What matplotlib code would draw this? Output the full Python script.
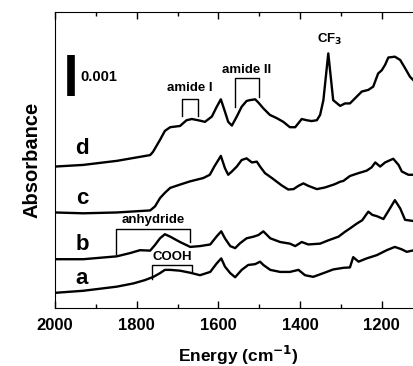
import matplotlib
matplotlib.use("Agg")
import matplotlib.pyplot as plt
from matplotlib.ticker import MultipleLocator

plt.rcParams['font.family'] = ['Liberation Sans', 'DejaVu Sans']
plt.rcParams['font.weight'] = 'bold'

# spectra, energy in cm-1, absorbance in units of 0.001 (curves stacked)
d_e = [2000, 1931, 1848, 1767, 1760, 1743, 1731, 1718, 1694, 1678, 1665, 1645, 1633,
       1616, 1604, 1594, 1584, 1576, 1567, 1555, 1543, 1531, 1523, 1510, 1502, 1490,
       1474, 1457, 1441, 1425, 1412, 1396, 1384, 1372, 1359, 1351, 1343, 1337, 1331,
       1325, 1319, 1302, 1290, 1278, 1266, 1249, 1233, 1221, 1209, 1200, 1192, 1184,
       1168, 1155, 1143, 1131, 1119]
d_a = [3.45, 3.49, 3.59, 3.73, 3.81, 4.10, 4.32, 4.41, 4.44, 4.58, 4.61, 4.57, 4.54,
       4.67, 4.91, 5.09, 4.79, 4.54, 4.45, 4.67, 4.91, 5.05, 5.07, 5.09, 5.01, 4.87,
       4.71, 4.63, 4.54, 4.41, 4.41, 4.61, 4.58, 4.56, 4.58, 4.71, 5.07, 5.64, 6.21,
       5.64, 5.07, 4.93, 4.99, 4.99, 5.11, 5.28, 5.32, 5.40, 5.72, 5.80, 5.93, 6.11,
       6.13, 6.05, 5.85, 5.64, 5.52]

c_e = [2000, 1931, 1849, 1767, 1755, 1743, 1731, 1718, 1694, 1669, 1637, 1621, 1610,
       1594, 1584, 1576, 1567, 1555, 1543, 1531, 1518, 1506, 1498, 1486, 1469, 1445,
       1429, 1416, 1404, 1392, 1380, 1359, 1339, 1315, 1302, 1294, 1278, 1257, 1237,
       1225, 1216, 1204, 1192, 1172, 1159, 1151, 1135, 1119]
c_a = [2.33, 2.31, 2.33, 2.38, 2.48, 2.68, 2.81, 2.93, 3.01, 3.09, 3.17, 3.25, 3.45,
       3.71, 3.41, 3.25, 3.33, 3.45, 3.61, 3.65, 3.55, 3.57, 3.45, 3.29, 3.17, 2.99,
       2.89, 2.90, 2.98, 3.04, 2.98, 2.90, 2.94, 3.02, 3.08, 3.10, 3.22, 3.29, 3.35,
       3.43, 3.55, 3.45, 3.55, 3.64, 3.49, 3.33, 3.25, 3.25]

b_e = [2000, 1931, 1849, 1816, 1792, 1767, 1755, 1743, 1731, 1718, 1694, 1669, 1645,
       1620, 1604, 1593, 1584, 1571, 1559, 1547, 1531, 1514, 1502, 1490, 1473, 1449,
       1425, 1412, 1396, 1380, 1351, 1331, 1306, 1290, 1278, 1261, 1248, 1233, 1223,
       1212, 1196, 1180, 1168, 1155, 1143, 1121]
b_a = [1.19, 1.19, 1.26, 1.34, 1.41, 1.40, 1.54, 1.70, 1.80, 1.74, 1.61, 1.49, 1.51,
       1.55, 1.75, 1.87, 1.70, 1.51, 1.46, 1.58, 1.70, 1.74, 1.78, 1.87, 1.70, 1.61,
       1.57, 1.51, 1.61, 1.55, 1.57, 1.65, 1.74, 1.86, 1.94, 2.06, 2.14, 2.35, 2.27,
       2.24, 2.17, 2.43, 2.63, 2.43, 2.15, 2.12]

a_e = [2000, 1931, 1849, 1808, 1780, 1759, 1743, 1731, 1718, 1694, 1669, 1645, 1620,
       1604, 1593, 1584, 1571, 1559, 1543, 1527, 1510, 1498, 1490, 1473, 1449, 1425,
       1404, 1388, 1368, 1343, 1319, 1294, 1278, 1270, 1257, 1237, 1212, 1188, 1168,
       1151, 1139, 1121]
a_a = [0.37, 0.42, 0.52, 0.60, 0.68, 0.76, 0.85, 0.93, 0.93, 0.91, 0.86, 0.80, 0.88,
       1.09, 1.21, 1.01, 0.85, 0.75, 0.93, 1.05, 1.07, 1.13, 1.05, 0.93, 0.88, 0.88,
       0.93, 0.80, 0.76, 0.85, 0.94, 0.98, 0.99, 1.24, 1.13, 1.21, 1.29, 1.41, 1.49,
       1.43, 1.37, 1.41]

spectra = [(a_e, a_a), (b_e, b_a), (c_e, c_a), (d_e, d_a)]
labels = ['a', 'b', 'c', 'd']
label_y = [0.73, 1.56, 2.68, 3.90]

fig = plt.figure(figsize=(4.14, 3.66), dpi=100)
ax = fig.add_axes([55 / 414, 58 / 366, 367.65 / 414, 296 / 366])

for (e, a), lab, ly in zip(spectra, labels, label_y):
    ax.plot(e, a, color='black', lw=1.7)
    ax.text(1934, ly, lab, fontsize=16, fontweight='bold', ha='center', va='center')

ax.set_xlim(2000, 1100)
ax.set_ylim(0, 7.22)

# scale bar 0.001
ax.plot([1960, 1960], [5.17, 6.17], color='black', lw=5.5, solid_capstyle='butt')
ax.text(1939, 5.63, '0.001', fontsize=10.5, fontweight='bold', ha='left', va='center')

def bracket(e1, e2, y1, y2, top):
    ax.plot([e1, e1, e2, e2], [y1, top, top, y2], color='black', lw=1.0)

bracket(1690, 1649, 4.68, 4.68, 5.09)
ax.text(1670, 5.37, 'amide I', fontsize=9.5, fontweight='bold', ha='center', va='center')
bracket(1559, 1500, 4.91, 5.15, 5.60)
ax.text(1530, 5.81, 'amide II', fontsize=9.5, fontweight='bold', ha='center', va='center')
ax.text(1328, 6.54, 'CF$_\\mathbf{3}$', fontsize=9.5, fontweight='bold', ha='center', va='center')
bracket(1851, 1669, 1.32, 1.62, 1.92)
ax.text(1760, 2.15, 'anhydride', fontsize=9.5, fontweight='bold', ha='center', va='center')
bracket(1763, 1664, 0.70, 0.89, 1.05)
ax.text(1713, 1.24, 'COOH', fontsize=9.5, fontweight='bold', ha='center', va='center')

ax.xaxis.set_major_locator(MultipleLocator(200))
ax.xaxis.set_minor_locator(MultipleLocator(100))
ax.tick_params(axis='x', which='major', direction='in', top=True, length=5, width=1,
               labelsize=12, pad=7)
ax.tick_params(axis='x', which='minor', direction='in', top=True, length=3, width=1)
ax.set_yticks([])
for lab in ax.get_xticklabels():
    lab.set_fontweight('bold')
ax.spines['right'].set_visible(False)

ax.set_xlabel('Energy (cm$^{\\mathbf{-1}}$)', fontsize=12.5, fontweight='bold', labelpad=8)
ax.set_ylabel('Absorbance', fontsize=14.5, fontweight='bold', labelpad=10)

fig.savefig('out.png', dpi=100)
